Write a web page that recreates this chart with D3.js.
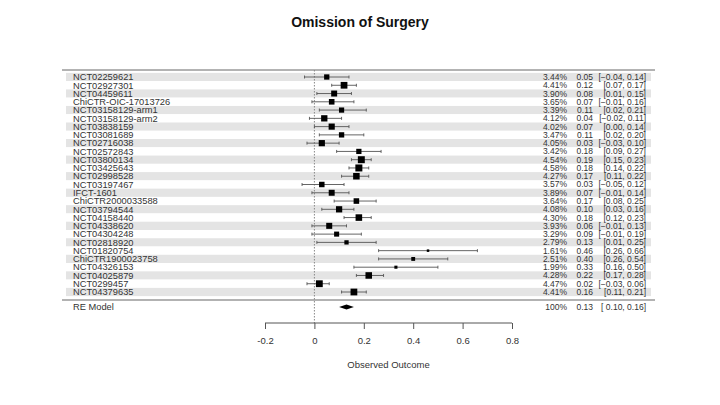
<!DOCTYPE html>
<html><head><meta charset="utf-8">
<script src="https://cdn.jsdelivr.net/npm/d3@7"></script>
<style>body{margin:0;background:#fff}svg{display:block}text{font-family:"Liberation Sans",Arial,sans-serif}</style>
</head><body><svg id="c" width="720" height="405"></svg>
<script>
const studies = ["NCT02259621","NCT02927301","NCT04459611","ChiCTR-OIC-17013726","NCT03158129-arm1","NCT03158129-arm2","NCT03838159","NCT03081689","NCT02716038","NCT02572843","NCT03800134","NCT03425643","NCT02998528","NCT03197467","IFCT-1601","ChiCTR2000033588","NCT03794544","NCT04158440","NCT04338620","NCT04304248","NCT02818920","NCT01820754","ChiCTR1900023758","NCT04326153","NCT04025879","NCT0299457","NCT04379635"];
const weights = [3.44,4.41,3.90,3.65,3.39,4.12,4.02,3.47,4.05,3.42,4.54,4.58,4.27,3.57,3.89,3.64,4.08,4.30,3.93,3.29,2.79,1.61,2.51,1.99,4.28,4.47,4.41];
const estimates = [0.05,0.12,0.08,0.07,0.11,0.04,0.07,0.11,0.03,0.18,0.19,0.18,0.17,0.03,0.07,0.17,0.10,0.18,0.06,0.09,0.13,0.46,0.40,0.33,0.22,0.02,0.16];
const lower = [-0.04,0.07,0.01,-0.01,0.02,-0.02,0.00,0.02,-0.03,0.09,0.15,0.14,0.11,-0.05,-0.01,0.08,0.03,0.12,-0.01,-0.01,0.01,0.26,0.26,0.16,0.17,-0.03,0.11];
const upper = [0.14,0.17,0.15,0.16,0.21,0.11,0.14,0.20,0.10,0.27,0.23,0.22,0.22,0.12,0.14,0.25,0.16,0.23,0.13,0.19,0.25,0.66,0.54,0.50,0.28,0.06,0.21];
const summary = {label:"RE Model", weight:100, est:0.13, lo:0.10, hi:0.16};
const xTicks = [-0.2,0,0.2,0.4,0.6,0.8];
const title = "Omission of Surgery";
const xLabel = "Observed Outcome";

const svg = d3.select("#c");
const x = d3.scaleLinear().domain([-0.2,0.8]).range([265,512]);
const y = d3.scaleLinear().domain([0, studies.length-1]).range([77,292]);
const rowH = (292-77)/(studies.length-1);
const sz = d3.scaleLinear().domain([d3.min(weights), d3.max(weights)]).range([2.5,7]);
const fmt = d3.format(".2f");
const tc = "#333";
const fsL = "9.3px", fsN = "8.5px";

svg.append("text").attr("x",360).attr("y",27).attr("text-anchor","middle")
  .style("font-weight","bold").style("font-size","14px").attr("fill","#111").text(title);

// bands
svg.append("g").selectAll("rect").data(studies).join("rect")
  .attr("x",66).attr("width",585).attr("y",(d,i)=>y(i)-rowH/2).attr("height",rowH)
  .attr("fill",(d,i)=> i%2===0 ? "#e4e4e4" : "#fff");

svg.append("line").attr("x1",62).attr("x2",655).attr("y1",70).attr("y2",70).attr("stroke","#666").attr("stroke-width",1);
svg.append("line").attr("x1",62).attr("x2",655).attr("y1",300).attr("y2",300).attr("stroke","#666").attr("stroke-width",1);

// zero ref line
svg.append("line").attr("x1",x(0)).attr("x2",x(0)).attr("y1",70).attr("y2",323)
  .attr("stroke","#888").attr("stroke-dasharray","1.5,1.5").attr("stroke-width",1);

const g = svg.append("g");
studies.forEach((s,i)=>{
  const yy = y(i);
  g.append("line").attr("x1",x(lower[i])).attr("x2",x(upper[i])).attr("y1",yy).attr("y2",yy).attr("stroke","#555").attr("stroke-width",0.9);
  [lower[i],upper[i]].forEach(v=>g.append("line").attr("x1",x(v)).attr("x2",x(v)).attr("y1",yy-1.5).attr("y2",yy+1.5).attr("stroke","#555").attr("stroke-width",0.9));
  const s2 = sz(weights[i]);
  g.append("rect").attr("x",x(estimates[i])-s2/2).attr("y",yy-s2/2).attr("width",s2).attr("height",s2).attr("fill","#000");
  g.append("text").attr("x",73).attr("y",yy).attr("dy","0.35em").style("font-size",fsL).attr("fill",tc).text(s);
  g.append("text").attr("x",567).attr("y",yy).attr("dy","0.35em").attr("text-anchor","end").style("font-size",fsN).attr("fill",tc).text(fmt(weights[i])+"%");
  g.append("text").attr("x",593).attr("y",yy).attr("dy","0.35em").attr("text-anchor","end").style("font-size",fsN).attr("fill",tc).text(fmt(estimates[i]));
  g.append("text").attr("x",646).attr("y",yy).attr("dy","0.35em").attr("text-anchor","end").style("font-size",fsN).attr("fill",tc).text("["+fmt(lower[i])+", "+fmt(upper[i])+"]");
});

// summary
const sy = 307;
svg.append("path").attr("d",`M${x(summary.lo)},${sy} L${x(summary.est)},${sy-2.5} L${x(summary.hi)},${sy} L${x(summary.est)},${sy+2.5} Z`).attr("fill","#000");
svg.append("text").attr("x",73).attr("y",sy).attr("dy","0.35em").style("font-size",fsL).attr("fill",tc).text(summary.label);
svg.append("text").attr("x",567).attr("y",sy).attr("dy","0.35em").attr("text-anchor","end").style("font-size",fsN).attr("fill",tc).text(summary.weight+"%");
svg.append("text").attr("x",593).attr("y",sy).attr("dy","0.35em").attr("text-anchor","end").style("font-size",fsN).attr("fill",tc).text(fmt(summary.est));
svg.append("text").attr("x",646).attr("y",sy).attr("dy","0.35em").attr("text-anchor","end").style("font-size",fsN).attr("fill",tc).text("[ "+fmt(summary.lo)+", "+fmt(summary.hi)+"]");

// axis
const ax = svg.append("g").attr("transform","translate(0,323)")
  .call(d3.axisBottom(x).tickValues(xTicks).tickSize(6).tickPadding(8).tickFormat(d=> d===0?"0":String(d)));
ax.select(".domain").attr("stroke","#555").attr("d",`M${x(-0.2)},0H${x(0.8)}`);
ax.selectAll(".tick line").attr("stroke","#555").attr("y1",0).attr("y2",6);
ax.selectAll(".tick text").style("font-size","9.5px").attr("fill",tc).style("font-family","Liberation Sans, Arial, sans-serif");
svg.append("text").attr("x",x(0.3)).attr("y",368).attr("text-anchor","middle").style("font-size","9.5px").attr("fill",tc).text(xLabel);
</script></body></html>
